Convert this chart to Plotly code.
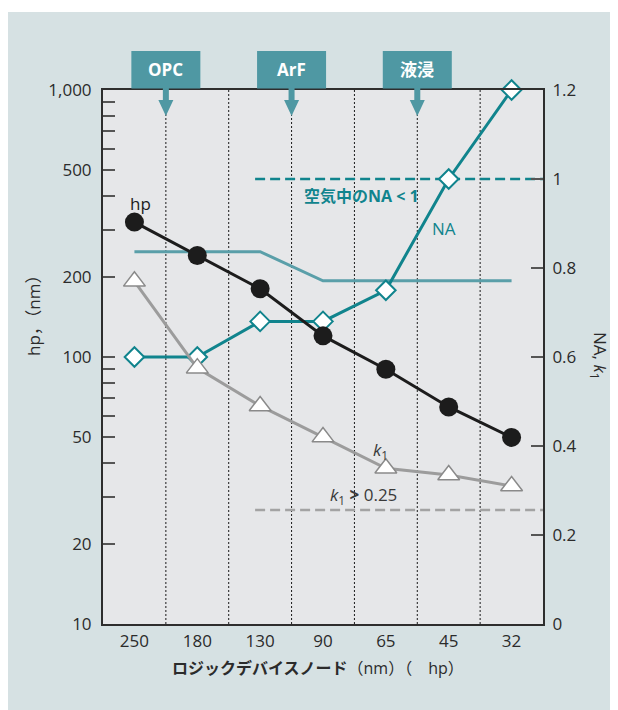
import plotly.graph_objects as go

# ---------------- data ----------------
nodes = ["250", "180", "130", "90", "65", "45", "32"]
hp_nm = [320, 240, 180, 120, 90, 65, 50]
wavelength_nm = [248, 248, 248, 193, 193, 193, 193]
na = [0.6, 0.6, 0.68, 0.68, 0.75, 1.0, 1.2]
k1 = [0.77, 0.575, 0.49, 0.42, 0.35, 0.335, 0.31]
na_limit = 1.0
k1_limit = 0.256
left_ticks = [10, 20, 50, 100, 200, 500, 1000]
left_ticktext = ["10", "20", "50", "100", "200", "500", "1,000"]
left_minor = [30, 40, 60, 70, 80, 90, 300, 400, 600, 700, 800, 900]
right_ticks = [0, 0.2, 0.4, 0.6, 0.8, 1.0, 1.2]
right_ticktext = ["0", "0.2", "0.4", "0.6", "0.8", "1", "1.2"]
milestones = ["OPC", "ArF", "液浸"]

# ---------------- layout constants ----------------
OFF = 8                      # page body margin
W, H = 618 - OFF, 710 - OFF
PL, PT, PW, PH = 103, 90, 440, 534   # plot area in screen pixels
L, T = PL - OFF, PT - OFF
R, B = W - L - PW, H - T - PH
X_PER_PX = 7 / PW

def pxx(px):
    return (px - PL) / PW

def pyy(py):
    return (PT + PH - py) / PH

TEAL = "#10848d"
TEAL_LIGHT = "#5a9fa9"
BOX = "#4f98a3"
GRAY = "#9c9c9c"
BLACK = "#1c1c1c"
TXT = "#2b2b2b"
FONT = "Open Sans, Noto Sans CJK JP, sans-serif"

xs = list(range(len(nodes)))

fig = go.Figure()
fig.add_trace(go.Scatter(x=xs, y=wavelength_nm, mode="lines", yaxis="y",
                         line=dict(color=TEAL_LIGHT, width=3), hoverinfo="skip"))
fig.add_trace(go.Scatter(x=xs, y=na, mode="lines+markers", yaxis="y2", cliponaxis=False,
                         line=dict(color=TEAL, width=3),
                         marker=dict(symbol="diamond", size=15, color="white",
                                     line=dict(color=TEAL, width=2))))
fig.add_trace(go.Scatter(x=xs, y=k1, mode="lines+markers", yaxis="y2", cliponaxis=False,
                         line=dict(color=GRAY, width=3),
                         marker=dict(symbol="triangle-up", size=19, color="white",
                                     line=dict(color="#8a8a8a", width=1.5))))
fig.add_trace(go.Scatter(x=xs, y=hp_nm, mode="lines+markers", yaxis="y3", cliponaxis=False,
                         line=dict(color=BLACK, width=3),
                         marker=dict(symbol="circle", size=19, color=BLACK)))

shapes = []
# white strip at the top of the panel
shapes.append(dict(type="rect", xref="paper", yref="paper", x0=pxx(0), x1=pxx(620),
                   y0=pyy(12), y1=pyy(0), fillcolor="white", line=dict(width=0), layer="below"))
# dotted category boundaries
for i in range(len(nodes) - 1):
    shapes.append(dict(type="line", xref="x", yref="paper", x0=i + 0.5, x1=i + 0.5, y0=0, y1=1,
                       line=dict(color="#1a1a1a", width=1, dash="2px,2px"), layer="below"))
# threshold lines
shapes.append(dict(type="line", xref="x", yref="y2", x0=1.92, x1=6.5, y0=na_limit, y1=na_limit,
                   line=dict(color=TEAL, width=2.5, dash="10px,5px"), layer="below"))
shapes.append(dict(type="line", xref="x", yref="y2", x0=1.92, x1=6.5, y0=k1_limit, y1=k1_limit,
                   line=dict(color="#a3a3a3", width=2.5, dash="10px,5px"), layer="below"))

annotations = []
# milestone boxes with arrows
for j, lab in enumerate(milestones):
    p = 0.5 + 2 * j
    hw = 34.5 * X_PER_PX
    shapes.append(dict(type="rect", xref="x", yref="paper", x0=p - hw, x1=p + hw,
                       y0=pyy(88.5), y1=pyy(51), fillcolor=BOX, line=dict(width=0), layer="above"))
    sw = 3 * X_PER_PX
    aw = 7.5 * X_PER_PX
    y_top, y_mid, y_tip = pyy(88), pyy(100), pyy(116)
    path = (f"M {p - sw},{y_top} L {p + sw},{y_top} L {p + sw},{y_mid} L {p + aw},{y_mid} "
            f"L {p},{y_tip} L {p - aw},{y_mid} L {p - sw},{y_mid} Z")
    shapes.append(dict(type="path", xref="x", yref="paper", path=path, fillcolor=BOX,
                       line=dict(width=0), layer="above"))
    annotations.append(dict(xref="x", yref="paper", x=p, y=pyy(70), text=f"<b>{lab}</b>",
                            xanchor="center", yanchor="middle",
                            showarrow=False, font=dict(color="white", size=17, family=FONT)))

def note(x, y, text, color=TXT, size=17):
    annotations.append(dict(xref="x", yref="y2", x=x, y=y, text=text, showarrow=False,
                            xanchor="center", yanchor="middle",
                            font=dict(color=color, size=size, family=FONT)))

note(0.10, 0.946, "hp", BLACK)
note(3.61, 0.962, "<b>空気中のNA < 1</b>", TEAL, 16)
note(4.93, 0.888, "NA", TEAL)
note(3.91, 0.391, "<i>k</i><sub>1</sub>", "#3a3a3a")
note(3.64, 0.288, "<i>k</i><sub>1</sub> <b>></b> 0.25", "#3a3a3a")

# axis titles
def title(x, y, text, angle=0, size=17):
    annotations.append(dict(xref="paper", yref="paper", x=pxx(x), y=pyy(y), text=text,
                            textangle=angle, showarrow=False, xanchor="center",
                            yanchor="middle", font=dict(size=size, color=TXT, family=FONT)))

title(33, 311, "hp，（nm）", -90)
title(600, 356, "NA, <i>k</i><sub>1</sub>", 90)
title(318, 668, "<b>ロジックデバイスノード</b>（nm）（　hp）", 0, 16)

axis_line = dict(showline=True, linecolor="#2e2e2e", linewidth=2, showgrid=False, zeroline=False)

fig.update_layout(
    width=W, height=H,
    margin=dict(l=L, r=R, t=T, b=B, autoexpand=False),
    paper_bgcolor="#d6e1e3", plot_bgcolor="#e6e7e9",
    showlegend=False,
    font=dict(family=FONT, size=17, color=TXT),
    xaxis=dict(range=[-0.5, 6.5], tickmode="array", tickvals=xs, ticktext=nodes,
               ticks="", mirror=True, ticklabelstandoff=1, **axis_line),
    yaxis=dict(type="log", range=[1, 3], tickmode="array", tickvals=left_ticks,
               ticktext=left_ticktext, ticks="inside", ticklen=12, tickwidth=1.5,
               tickcolor="#555555", ticklabelstandoff=6,
               minor=dict(tickmode="array", tickvals=left_minor, ticks="inside", ticklen=12,
                          tickwidth=1.5, tickcolor="#555555", showgrid=False),
               **axis_line),
    yaxis2=dict(overlaying="y", side="right", range=[0, 1.2], tickmode="array",
                tickvals=right_ticks, ticktext=right_ticktext, ticks="inside", ticklen=12,
                tickwidth=1.5, tickcolor="#555555", ticklabelstandoff=4, **axis_line),
    yaxis3=dict(overlaying="y", type="log", range=[1, 3], visible=False),
    shapes=shapes,
    annotations=annotations,
)

fig.write_html("out.html")
